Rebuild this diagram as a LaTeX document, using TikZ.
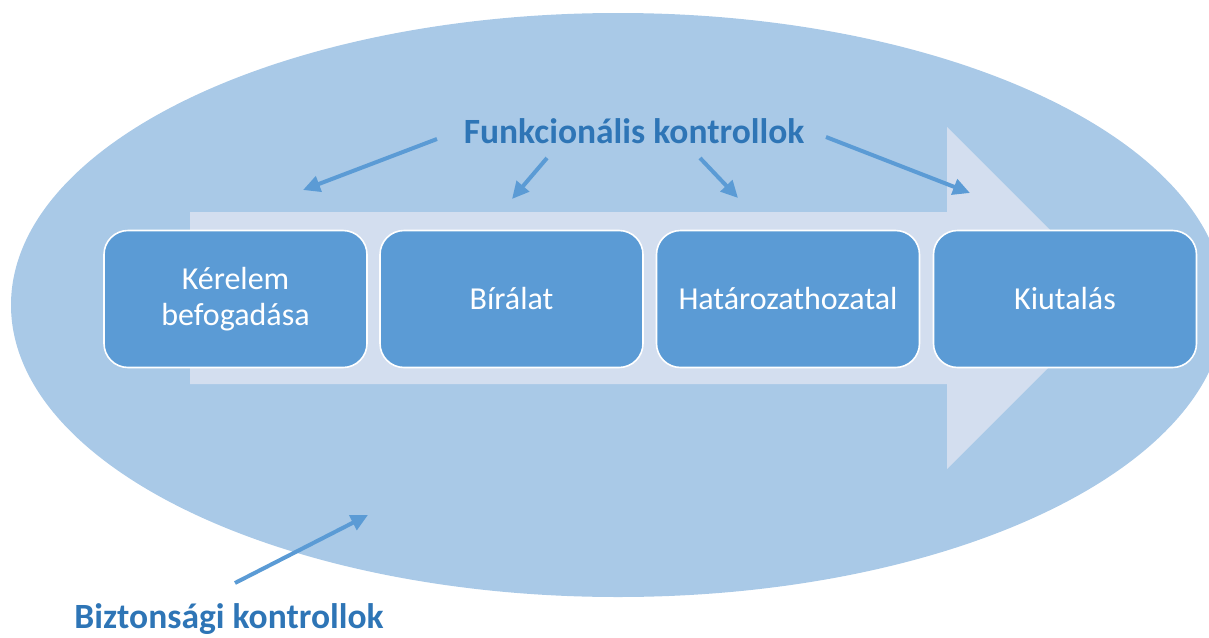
\documentclass[tikz,border=0pt]{standalone}
\usepackage{fontspec}
\setmainfont{Carlito}
\usetikzlibrary{arrows.meta}
\definecolor{ellblue}{HTML}{A9C9E7}
\definecolor{arrlight}{HTML}{D3DEEF}
\definecolor{boxblue}{HTML}{5B9BD5}
\definecolor{txtblue}{HTML}{2E75B6}
\definecolor{conblue}{HTML}{5B9BD5}
\tikzset{
  stepbox/.style={rectangle, rounded corners=24pt, fill=boxblue, draw=white, line width=1.6pt,
    minimum width=263pt, minimum height=137pt, text=white, align=center,
    font=\fontsize{32}{36}\selectfont, inner sep=0pt},
  title/.style={text=txtblue, font=\fontsize{35.5}{40}\selectfont\bfseries, inner sep=0pt},
  conn/.style={draw=conblue, line width=4pt, -{Triangle[length=17pt,width=16pt]}},
}
\begin{document}
\begin{tikzpicture}[x=1pt,y=-1pt]
\useasboundingbox (0,0) rectangle (1209,637);
\clip (0,0) rectangle (1209,637);
% background ellipse
\fill[ellblue] (618,305) ellipse [x radius=607, y radius=292];
% big process arrow
\fill[arrlight] (190,212) -- (947,212) -- (947,127) -- (1118,298) -- (947,469) -- (947,384) -- (190,384) -- cycle;
% step boxes
\node[stepbox] (s1) at (235.5,299) {Kérelem\\befogadása};
\node[stepbox] (s2) at (511.5,299) {Bírálat};
\node[stepbox] (s3) at (788,299) {Határozathozatal};
\node[stepbox] (s4) at (1065,299) {Kiutalás};
% titles
\node[title, anchor=base] (func) at (634,143) {Funkcionális kontrollok};
\node[title, anchor=base] (sec) at (229,628) {Biztonsági kontrollok};
% connector end points
\coordinate (f1s) at (437,139);
\coordinate (f1e) at (303,190);
\coordinate (f2s) at (547,158);
\coordinate (f2e) at (512,199);
\coordinate (f3s) at (700,158);
\coordinate (f3e) at (738,198);
\coordinate (f4s) at (826,137);
\coordinate (f4e) at (970,193);
\coordinate (b1s) at (235,583);
\coordinate (b1e) at (368,515);
\draw[conn] (f1s) -- (f1e);
\draw[conn] (f2s) -- (f2e);
\draw[conn] (f3s) -- (f3e);
\draw[conn] (f4s) -- (f4e);
\draw[conn] (b1s) -- (b1e);
\end{tikzpicture}
\end{document}
